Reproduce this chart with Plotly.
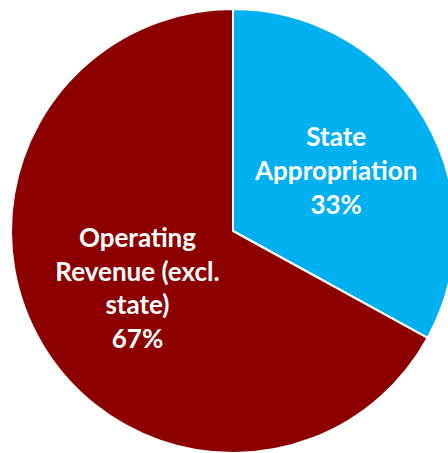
import plotly.graph_objects as go

labels = ["State Appropriation", "Operating Revenue (excl. state)"]
values = [33, 67]
slice_text = ["State<br>Appropriation", "Operating<br>Revenue (excl.<br>state)"]
colors = ["#00B0F0", "#8C0000"]

W, H = 460, 460
cx, cy, r = 233, 231, 222

fig = go.Figure()
fig.add_trace(go.Pie(
    labels=labels,
    values=values,
    text=slice_text,
    texttemplate="<b>%{text}<br>%{percent}</b>",
    textposition="inside",
    insidetextorientation="horizontal",
    sort=False,
    direction="clockwise",
    rotation=0,
    marker=dict(colors=colors, line=dict(color="white", width=2)),
    insidetextfont=dict(family="Lato, Noto Sans, sans-serif", size=26, color="white"),
    hoverinfo="label+percent",
    domain=dict(x=[(cx - r) / W, (cx + r) / W], y=[1 - (cy + r) / H, 1 - (cy - r) / H]),
))

fig.update_layout(
    width=W,
    height=H,
    margin=dict(l=0, r=0, t=0, b=0),
    showlegend=False,
    paper_bgcolor="white",
)

fig.write_html(
    "out.html",
    config={"displayModeBar": False},
    post_script="document.body.style.margin='0';document.body.style.overflow='hidden';",
)
